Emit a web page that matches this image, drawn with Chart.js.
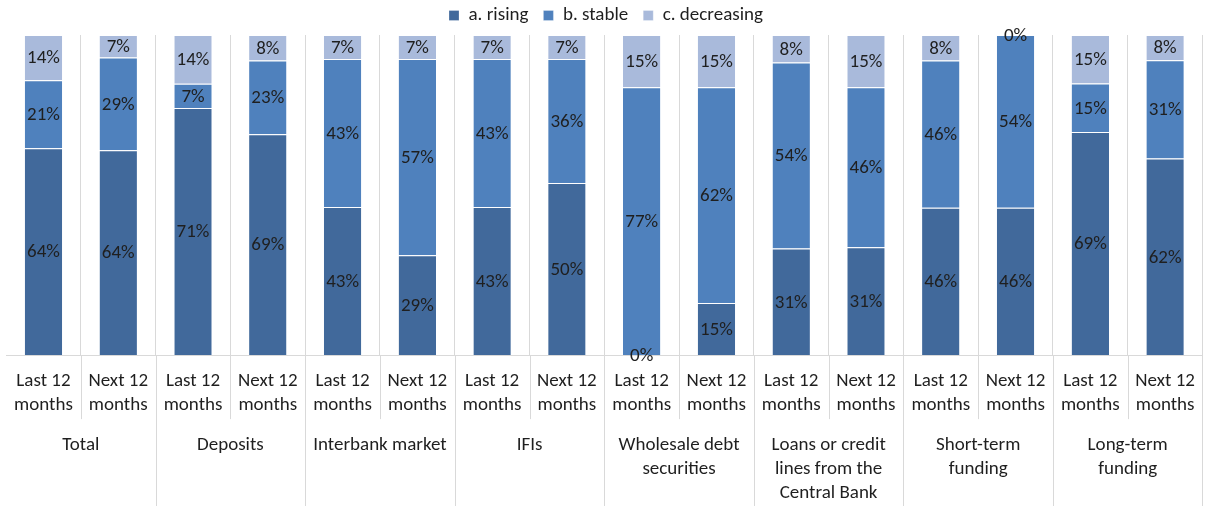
<!DOCTYPE html>
<html>
<head>
<meta charset="utf-8">
<script src="https://cdn.jsdelivr.net/npm/chart.js@4/dist/chart.umd.min.js"></script>
<style>
  html, body { margin: 0; padding: 0; background: #fff; }
  #wrap { width: 1209px; height: 506px; }
</style>
</head>
<body>
<div id="wrap"><canvas id="chart"></canvas></div>
<script>
// sub-category labels (one per bar)
const periods = [
  ['Last 12', 'months'], ['Next 12', 'months'],
  ['Last 12', 'months'], ['Next 12', 'months'],
  ['Last 12', 'months'], ['Next 12', 'months'],
  ['Last 12', 'months'], ['Next 12', 'months'],
  ['Last 12', 'months'], ['Next 12', 'months'],
  ['Last 12', 'months'], ['Next 12', 'months'],
  ['Last 12', 'months'], ['Next 12', 'months'],
  ['Last 12', 'months'], ['Next 12', 'months']
];
// group labels (two bars each)
const groups = [
  ['Total'], ['Deposits'], ['Interbank market'], ['IFIs'],
  ['Wholesale debt', 'securities'], ['Loans or credit', 'lines from the', 'Central Bank'],
  ['Short-term', 'funding'], ['Long-term', 'funding']
];
// percentages as printed on the bars
const rising     = [64, 64, 71, 69, 43, 29, 43, 50,  0, 15, 31, 31, 46, 46, 69, 62];
const stable     = [21, 29,  7, 23, 43, 57, 43, 36, 77, 62, 54, 46, 46, 54, 15, 31];
const decreasing = [14,  7, 14,  8,  7,  7,  7,  7, 15, 15,  8, 15,  8,  0, 15,  8];

const FONT = 'Calibri, Carlito, Lato, sans-serif';
const FS = 19;
const GRID = '#d9d9d9';
const TXT = '#1f1f1f';

// 100% stacked: each bar is scaled to its own total
const totals = rising.map((v, i) => v + stable[i] + decreasing[i]);
const share = arr => arr.map((v, i) => v / totals[i] * 100);

const segLabels = {
  id: 'segLabels',
  afterDatasetsDraw(chart) {
    const ctx = chart.ctx;
    ctx.save();
    ctx.font = FS + 'px ' + FONT;
    ctx.fillStyle = TXT;
    ctx.textAlign = 'center';
    ctx.textBaseline = 'middle';
    chart.data.datasets.forEach((ds, di) => {
      const meta = chart.getDatasetMeta(di);
      meta.data.forEach((bar, i) => {
        const yc = (bar.y + bar.base) / 2;
        ctx.fillText(ds.raw[i] + '%', bar.x, yc + 1);
      });
    });
    ctx.restore();
  },
  afterDraw(chart) {
    // separators below the axis and the group names
    const ctx = chart.ctx;
    const xs = chart.scales.x;
    const n = chart.data.labels.length;
    const step = (xs.right - xs.left) / n;
    const top = chart.chartArea.bottom;
    ctx.save();
    ctx.strokeStyle = GRID;
    ctx.lineWidth = 1;
    for (let i = 1; i <= n; i++) {
      const x = Math.round(xs.left + i * step) + 0.5;
      const end = i % 2 === 0 ? chart.height : top + 64;
      ctx.beginPath();
      ctx.moveTo(x, top);
      ctx.lineTo(x, end);
      ctx.stroke();
    }
    ctx.font = FS + 'px ' + FONT;
    ctx.fillStyle = TXT;
    ctx.textAlign = 'center';
    ctx.textBaseline = 'middle';
    groups.forEach((g, gi) => {
      const xc = xs.left + (gi * 2 + 1) * step;
      g.forEach((line, li) => ctx.fillText(line, xc, top + 90 + li * 24));
    });
    ctx.restore();
  }
};

new Chart(document.getElementById('chart'), {
  type: 'bar',
  data: {
    labels: periods,
    datasets: [
      { label: 'a. rising', data: share(rising), raw: rising, backgroundColor: '#41699b' },
      { label: 'b. stable', data: share(stable), raw: stable, backgroundColor: '#4f81bd' },
      { label: 'c. decreasing', data: share(decreasing), raw: decreasing, backgroundColor: '#a9badb' }
    ].map(d => Object.assign(d, {
      borderColor: '#ffffff',
      borderWidth: { top: 1, bottom: 0, left: 0, right: 0 },
      borderSkipped: false,
      barPercentage: 0.5,
      categoryPercentage: 1
    }))
  },
  options: {
    responsive: true,
    maintainAspectRatio: false,
    animation: false,
    // negative top pulls the legend up so its item spacing can be wider
    layout: { padding: { left: 6, right: 3, top: -9, bottom: 75 } },
    plugins: {
      legend: {
        position: 'top',
        labels: {
          boxWidth: 10,
          boxHeight: 10,
          padding: 15,
          color: TXT,
          font: { family: FONT, size: FS }
        }
      },
      tooltip: { enabled: false }
    },
    scales: {
      x: {
        stacked: true,
        offset: true,
        grid: {
          offset: true,
          drawTicks: false,
          color: ctx => ctx.index === 0 ? 'rgba(0,0,0,0)' : GRID
        },
        border: { display: true, color: GRID },
        ticks: {
          padding: 14,
          maxRotation: 0,
          autoSkip: false,
          color: TXT,
          font: { family: FONT, size: FS, lineHeight: 1.26 }
        }
      },
      y: {
        stacked: true,
        display: false,
        min: 0,
        max: 100
      }
    }
  },
  plugins: [segLabels]
});
</script>
</body>
</html>
